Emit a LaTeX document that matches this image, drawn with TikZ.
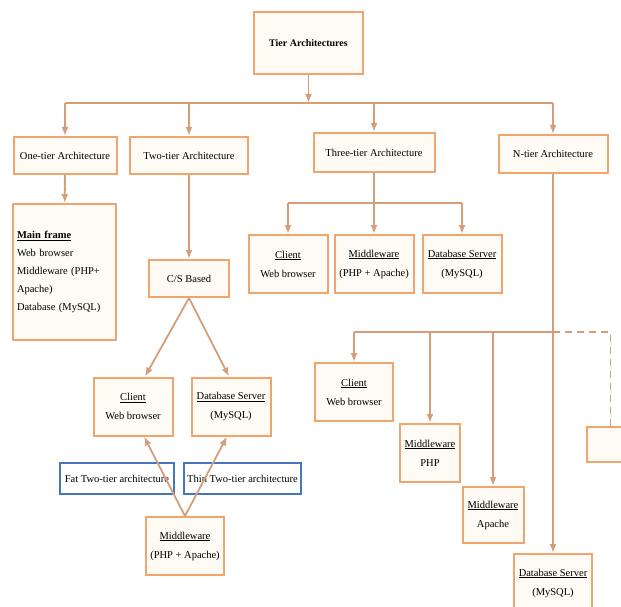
\documentclass[tikz,border=0pt]{standalone}
\usepackage{fontspec}
\setmainfont{Liberation Serif}
\usetikzlibrary{arrows.meta,positioning}

\definecolor{boxline}{RGB}{240,164,110}
\definecolor{boxfill}{RGB}{254,250,244}
\definecolor{linkcol}{RGB}{212,158,120}
\definecolor{noteline}{RGB}{70,120,185}

\begin{document}
\begin{tikzpicture}[>={Latex[length=9pt,width=7pt]}, x=1pt, y=-1pt, font=\fontsize{10.5}{19}\selectfont]
    \tikzset{block/.style={
      draw=boxline,
      fill=boxfill,
      line width=2pt,
      rectangle,
      align=center,
      inner sep=2pt,
      minimum width=79pt,
      minimum height=58pt
    }, note/.style={
      draw=noteline,
      fill=white,
      line width=1.8pt,
      rectangle,
      inner sep=2pt,
      minimum height=31pt
    }, link/.style={
      draw=linkcol,
      line width=1.8pt
    }};

    \useasboundingbox (0,0) rectangle (621,607);

    % first row
    \node [block, minimum width=109pt, minimum height=62pt, font=\fontsize{10}{12}\selectfont\bfseries] (tier) at (308.5,43) {Tier Architectures};
    \node [block, minimum width=103pt, minimum height=37pt] (one) at (65,155.5) {One-tier Architecture};
    \node [block, minimum width=118pt, minimum height=37pt] (two) at (189,155.5) {Two-tier Architecture};
    \node [block, minimum width=121pt, minimum height=39pt] (three) at (374,152.5) {Three-tier Architecture};
    \node [block, minimum width=109pt, minimum height=38pt] (ntier) at (553,154) {N-tier Architecture};

    % one-tier
    \node [block, align=left, text width=95pt, inner xsep=4pt, minimum height=136pt, font=\fontsize{10.5}{18}\selectfont] (main) at (64.5,272)
      {\textbf{\underline{Main frame}}\\Web browser\\Middleware (PHP+\\Apache)\\Database (MySQL)};

    % two-tier
    \node [block, minimum width=80pt, minimum height=37pt] (cs) at (189,278.5) {C/S Based};
    \node [block] (client2) at (133,406.5) {\underline{Client}\\Web browser};
    \node [block] (db2) at (231,406.5) {\underline{Database Server}\\(MySQL)};
    \node [note, minimum width=114pt] (fat) at (117,478.5) {Fat Two-tier architecture};
    \node [note, minimum width=117pt] (thin) at (242.5,478.5) {Thin Two-tier architecture};
    \node [block, minimum width=78pt] (mid2) at (185,546) {\underline{Middleware}\\(PHP + Apache)};

    % three-tier
    \node [block] (client3) at (288,264) {\underline{Client}\\Web browser};
    \node [block] (mid3) at (374,264) {\underline{Middleware}\\(PHP + Apache)};
    \node [block] (db3) at (462,264) {\underline{Database Server}\\(MySQL)};

    % n-tier
    \node [block, minimum width=78pt] (client4) at (354,392) {\underline{Client}\\Web browser};
    \node [block, minimum width=60pt] (php4) at (430,453) {\underline{Middleware}\\PHP};
    \node [block, minimum width=61pt, minimum height=56pt] (apache4) at (493,515) {\underline{Middleware}\\Apache};
    \node [block, minimum width=78pt] (db4) at (553,583) {\underline{Database Server}\\(MySQL)};
    \node [block, minimum width=63pt, minimum height=35pt] (blank) at (618.5,444.5) {};

    \coordinate (bus) at (0,103);
    \coordinate (bus3) at (0,203);
    \coordinate (bus4) at (0,332);

    \path[link,->] (tier) -- (tier |- bus);
    \path[link] (one |- bus) -- (ntier |- bus);
    \foreach \n in {one,two,three,ntier}
      \path[link,->] (\n |- bus) -- (\n);

    \path[link,->] (one) -- (main);
    \path[link,->] (two) -- (cs);
    \path[link,->] (cs.south) -- ([xshift=12pt]client2.north);
    \path[link,->] (cs.south) -- ([xshift=-2pt]db2.north);
    \path[link,->] (mid2.north) -- ([xshift=11pt]client2.south);
    \path[link,->] (mid2.north) -- ([xshift=-4pt]db2.south);

    \path[link] (three) -- (three |- bus3);
    \path[link] (client3 |- bus3) -- (db3 |- bus3);
    \foreach \n in {client3,mid3,db3}
      \path[link,->] (\n |- bus3) -- (\n);

    \path[link,->] (ntier) -- (db4);
    \path[link] (client4 |- bus4) -- (ntier |- bus4);
    \path[link, dash pattern=on 7pt off 5pt] (ntier |- bus4) -| ([xshift=-8pt]blank.north);
    \foreach \n in {client4,php4,apache4}
      \path[link,->] (\n |- bus4) -- (\n);

  \end{tikzpicture}
\end{document}
